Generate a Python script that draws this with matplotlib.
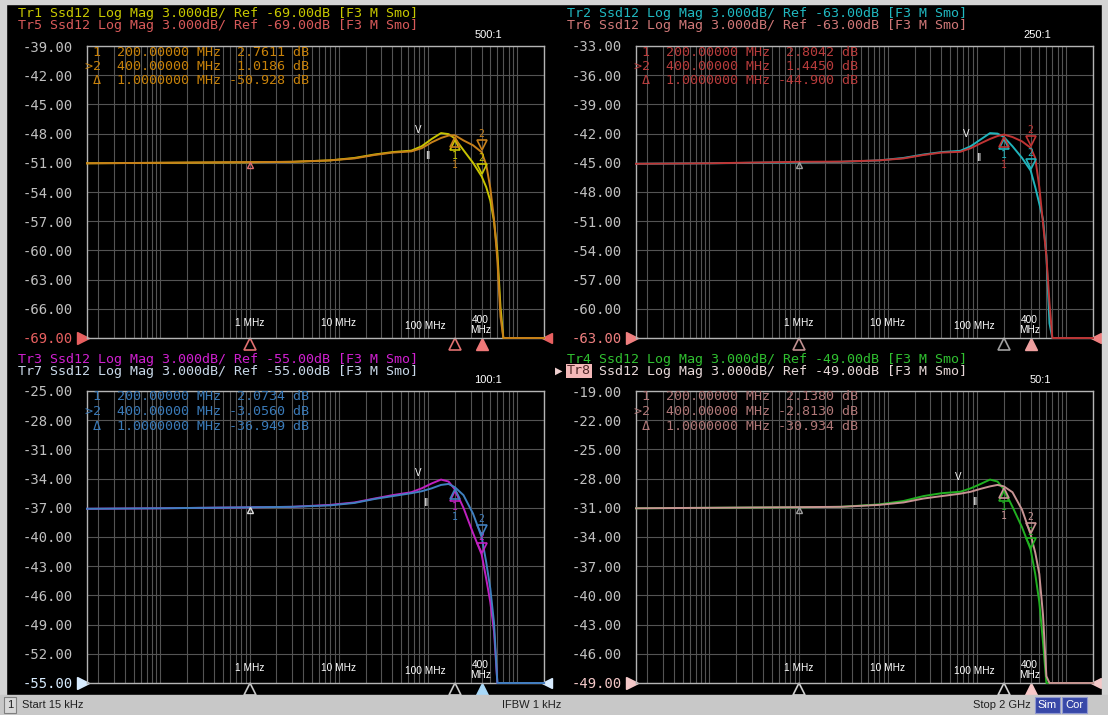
import numpy as np
import matplotlib.pyplot as plt
from matplotlib.ticker import LogLocator, NullFormatter
from matplotlib.transforms import offset_copy
from matplotlib.patches import Rectangle

W, H = 1108, 715

# frequency points (Hz), shared by all traces
freq = [15e3, 1e5, 1e6, 3e6, 8e6, 1.5e7, 2.5e7, 4e7, 6.5e7, 8.5e7, 1.1e8, 1.4e8, 1.7e8,
        2e8, 2.5e8, 3.2e8, 4e8, 4.5e8, 5e8, 5.5e8, 6e8, 6.5e8, 7e8, 1e9, 2e9]

# 500:1 panel
tr1 = [-51.05, -51.0, -50.95, -50.9, -50.75, -50.5, -50.15, -49.9, -49.75, -49.3, -48.55, -47.95, -48.05,
       -48.5, -49.7, -51.0, -52.4, -53.5, -54.9, -57.0, -60.2, -65.8, -71.0, -80.0, -85.0]
tr5 = [-51.05, -51.0, -50.93, -50.9, -50.75, -50.55, -50.2, -49.95, -49.83, -49.5, -48.9, -48.45, -48.2,
       -48.17, -48.7, -49.2, -49.91, -51.2, -53.6, -56.8, -61.0, -66.8, -71.0, -80.0, -85.0]
# 250:1 panel
tr2 = [-45.1, -45.05, -44.95, -44.9, -44.75, -44.5, -44.15, -43.9, -43.77, -43.3, -42.6, -41.95, -42.0,
       -42.35, -43.3, -44.5, -45.8, -47.5, -49.2, -50.8, -54.5, -61.5, -66.0, -75.0, -80.0]
tr6 = [-45.1, -45.05, -44.9, -44.88, -44.75, -44.55, -44.2, -43.95, -43.87, -43.5, -43.0, -42.55, -42.25,
       -42.10, -42.35, -42.8, -43.46, -44.5, -47.5, -51.2, -54.6, -59.4, -64.5, -75.0, -80.0]
# 100:1 panel
tr3 = [-37.1, -37.05, -36.95, -36.9, -36.7, -36.45, -36.05, -35.7, -35.4, -35.0, -34.5, -34.1, -34.3,
       -35.1, -37.0, -39.6, -41.8, -44.3, -46.7, -49.7, -55.5, -62.0, -66.0, -75.0, -80.0]
tr7 = [-37.1, -37.05, -36.95, -36.9, -36.75, -36.5, -36.1, -35.8, -35.5, -35.3, -35.0, -34.65, -34.55,
       -34.88, -35.7, -37.6, -40.0, -42.6, -45.3, -48.8, -55.2, -61.0, -66.0, -75.0, -80.0]
# 50:1 panel
tr4 = [-31.05, -31.0, -30.95, -30.9, -30.65, -30.3, -29.8, -29.5, -29.35, -29.0, -28.55, -28.1, -28.3,
       -29.1, -30.9, -33.0, -35.3, -37.8, -40.7, -44.8, -51.5, -56.0, -61.0, -70.0, -75.0]
tr8 = [-31.05, -31.0, -30.934, -30.9, -30.7, -30.45, -30.05, -29.8, -29.55, -29.35, -29.05, -28.8, -28.65,
       -28.80, -29.4, -31.2, -33.75, -35.6, -37.8, -42.0, -48.3, -54.0, -60.0, -70.0, -75.0]

ref_levels = [-69, -63, -55, -49]
ratios = ["500:1", "250:1", "100:1", "50:1"]
trace_names = [("Tr1", "Tr5"), ("Tr2", "Tr6"), ("Tr3", "Tr7"), ("Tr4", "Tr8")]
# marker readouts: marker 1, marker 2, delta reference
mk1 = [2.7611, 2.8042, 2.0734, 2.1380]
mk2 = [1.0186, 1.4450, -3.0560, -2.8130]
mkd = [-50.928, -44.900, -36.949, -30.934]
freq_labels = ["1 MHz", "10 MHz", "100 MHz", "400\nMHz"]
freq_label_pos = [1e6, 1e7, 0.93e8, 3.9e8]

panels = [
    dict(dx=0, dy=0, data=(tr1, tr5), col=("#c8c400", "#c8801a"),
         hcol=("#c8c800", "#d85a5a"), tcol="#c8820a", refcol="#e86060",
         bot=("#e07070", "#e07070", "#f07878"), dmk="#e07070",
         v=(418, 130), ii=(428, 156)),
    dict(dx=549, dy=0, data=(tr2, tr6), col=("#20b4bc", "#c03434"),
         hcol=("#20b8c0", "#d07878"), tcol="#b83c3c", refcol="#f08080",
         bot=("#c09090", "#a0a0a0", "#f0a0a0"), dmk="#a0a0a0",
         v=(417, 134), ii=(430, 158)),
    dict(dx=0, dy=345, data=(tr3, tr7), col=("#c020c0", "#4080c0"),
         hcol=("#d020d0", "#c8d8e8"), tcol="#3a7ab8", refcol="#d8ecff",
         bot=("#c8c8c8", "#c8c8c8", "#a8d8f8"), dmk="#e0e0e0",
         v=(418, 128), ii=(426, 158)),
    dict(dx=549, dy=345, data=(tr4, tr8), col=("#20b020", "#c89494"),
         hcol=("#30c030", "#e8d8d8"), tcol="#b07878", refcol="#f4c8c8",
         bot=("#d0d0d0", "#d0d0d0", "#f8c8c8"), dmk="#a0a0a0",
         v=(409, 132), ii=(426, 157)),
]

fig = plt.figure(figsize=(W / 100, H / 100), dpi=100, facecolor="black")
mono = "DejaVu Sans Mono"
sans = "Liberation Sans"


def ftext(x, y, s, **kw):
    return fig.text(x / W, 1 - y / H, s, **kw)


i200 = freq.index(2e8)
i400 = freq.index(4e8)
i1m = freq.index(1e6)

for k, p in enumerate(panels):
    dx, dy = p["dx"], p["dy"]
    ref = ref_levels[k]
    l, r, t, b = 87 + dx, 544 + dx, 46 + dy, 338 + dy
    ax = fig.add_axes([l / W, 1 - b / H, (r - l) / W, (b - t) / H])
    ax.set_facecolor("black")
    ax.set_xscale("log")
    ax.set_xlim(15e3, 2e9)
    ax.set_ylim(ref, ref + 30)

    yt = np.arange(ref, ref + 30.1, 3)
    ax.set_yticks(yt)
    ax.set_yticklabels([f"{v:.2f}" for v in yt], fontfamily=mono, fontsize=10, color="#c0c0c0")
    ax.get_yticklabels()[0].set_color(p["refcol"])
    ax.tick_params(axis="y", length=0, pad=10)
    ax.xaxis.set_major_locator(LogLocator(base=10, numticks=20))
    ax.xaxis.set_minor_locator(LogLocator(base=10, subs=np.arange(2, 10), numticks=20))
    ax.xaxis.set_major_formatter(NullFormatter())
    ax.xaxis.set_minor_formatter(NullFormatter())
    ax.tick_params(axis="x", which="both", length=0)
    ax.grid(True, which="both", axis="x", color="#545454", lw=0.8)
    ax.grid(True, which="major", axis="y", color="#545454", lw=0.8)
    for s in ax.spines.values():
        s.set_color("#b4b4b4")
        s.set_linewidth(1.0)

    # traces, clipped to the bottom of the screen like the analyzer does
    for vals, c in zip(p["data"], p["col"]):
        ax.plot(freq, np.maximum(vals, ref), color=c, lw=1.4, clip_on=False, zorder=3)

    # markers on the traces
    below = offset_copy(ax.transData, fig=fig, x=0, y=-7, units="dots")
    above = offset_copy(ax.transData, fig=fig, x=0, y=7, units="dots")
    va, vb = p["data"]
    close1 = abs(va[i200] - vb[i200]) < 1.5
    close2 = abs(va[i400] - vb[i400]) < 1.5
    for j, (vals, c) in enumerate(zip(p["data"], p["col"])):
        ax.plot([2e8], [vals[i200]], marker="^", ms=7, mfc="none", mec=c, mew=1.2,
                transform=below, zorder=4)
        ax.annotate("1", (2e8, vals[i200]), xytext=(0, -18 - (12 * j if close1 else 0)),
                    textcoords="offset pixels", ha="center", va="center", color=c,
                    fontsize=7, fontfamily=mono)
        ax.plot([4e8], [vals[i400]], marker="v", ms=7, mfc="none", mec=c, mew=1.2,
                transform=above, zorder=4)
        ax.annotate("2", (4e8, vals[i400]), xytext=(0, 18 + (12 * j if close2 else 0)),
                    textcoords="offset pixels", ha="center", va="center", color=c,
                    fontsize=7, fontfamily=mono)
    ax.plot([1e6], [vb[i1m]], marker="^", ms=5, mfc="none", mec=p["dmk"],
            transform=offset_copy(ax.transData, fig=fig, y=-3, units="dots"), zorder=4)

    # marker indicators under the axis
    under = offset_copy(ax.get_xaxis_transform(), fig=fig, x=0, y=-6, units="dots")
    ax.plot([1e6], [0], marker="^", ms=8, mfc="none", mec=p["bot"][0], mew=1.2,
            transform=under, clip_on=False)
    ax.plot([2e8], [0], marker="^", ms=8, mfc="none", mec=p["bot"][1], mew=1.2,
            transform=under, clip_on=False)
    ax.plot([4e8], [0], marker="^", ms=8, color=p["bot"][2], transform=under, clip_on=False)

    # reference level pointers
    ax.plot([0], [0], marker=">", ms=8, color=p["refcol"], clip_on=False,
            transform=offset_copy(ax.transAxes, fig=fig, x=-4, y=0, units="dots"))
    ax.plot([1], [0], marker="<", ms=7, color=p["refcol"], clip_on=False,
            transform=offset_copy(ax.transAxes, fig=fig, x=3, y=0, units="dots"))

    # frequency annotations
    for s, f, yy in zip(freq_labels, freq_label_pos, [0.05, 0.05, 0.04, 0.045]):
        ax.text(f, yy, s, transform=ax.get_xaxis_transform(), ha="center", va="center",
                color="white", fontsize=7.3, fontfamily=sans, linespacing=1.0)

    ftext(p["v"][0] + dx, p["v"][1] + dy, "V", color="white", fontsize=7, fontfamily=sans,
          ha="center", va="center")
    ftext(p["ii"][0] + dx, p["ii"][1] + dy, "II", color="white", fontsize=7, fontfamily=sans,
          ha="center", va="center")

    # header lines
    n1, n2 = trace_names[k]
    ftext(18 + dx, 14 + dy, f"{n1} Ssd12 Log Mag 3.000dB/ Ref {ref:.2f}dB [F3 M Smo]",
          color=p["hcol"][0], fontsize=9.6, fontfamily=mono, va="center")
    if k == 3:
        ftext(18 + dx, 26 + dy, n2, color="#502828", fontsize=9.6, fontfamily=mono, va="center",
              bbox=dict(facecolor="#f4b8b8", edgecolor="none", pad=0.6))
        ftext(18 + dx + 24, 26 + dy, f" Ssd12 Log Mag 3.000dB/ Ref {ref:.2f}dB [F3 M Smo]",
              color=p["hcol"][1], fontsize=9.6, fontfamily=mono, va="center")
        ftext(10 + dx, 26 + dy, "\u25b6", color="#f0d0d0", fontsize=7, va="center", ha="center")
    else:
        ftext(18 + dx, 26 + dy, f"{n2} Ssd12 Log Mag 3.000dB/ Ref {ref:.2f}dB [F3 M Smo]",
              color=p["hcol"][1], fontsize=9.6, fontfamily=mono, va="center")
    ftext(502 + dx, 35 + dy, ratios[k], color="white", fontsize=8, fontfamily=sans,
          ha="right", va="center")

    # marker table
    rows = [f" 1  200.00000 MHz {mk1[k]:7.4f} dB",
            f">2  400.00000 MHz {mk2[k]:7.4f} dB",
            f" \u0394  1.0000000 MHz {mkd[k]:7.3f} dB"]
    for j, row in enumerate(rows):
        ftext(85 + dx, 52 + 14.5 * j + dy, row, color=p["tcol"], fontsize=9.6,
              fontfamily=mono, va="center")

# window frame and status bar
for x0, y0, w, h, c in [(0, 0, W, 4, "#d4d4d4"), (0, 0, 6, H, "#d4d4d4"),
                        (1102, 0, 6, H, "#d4d4d4"), (0, 695, W, 20, "#c8c8c8")]:
    fig.patches.append(Rectangle((x0 / W, 1 - (y0 + h) / H), w / W, h / H,
                                 transform=fig.transFigure, color=c, zorder=0))
fig.patches.append(Rectangle((4 / W, 1 - 713 / H), 12 / W, 16 / H, transform=fig.transFigure,
                             facecolor="#d8d8d8", edgecolor="#808080", lw=0.8))
ftext(10, 705, "1", color="#202020", fontsize=8, fontfamily=sans, ha="center", va="center")
ftext(22, 705, "Start 15 kHz", color="#202020", fontsize=8, fontfamily=sans, va="center")
ftext(532, 705, "IFBW 1 kHz", color="#202020", fontsize=8, fontfamily=sans, va="center", ha="center")
ftext(1031, 705, "Stop 2 GHz", color="#202020", fontsize=8, fontfamily=sans, va="center", ha="right")
for x0, s in [(1035, "Sim"), (1062, "Cor")]:
    fig.patches.append(Rectangle((x0 / W, 1 - 713 / H), 25 / W, 16 / H, transform=fig.transFigure,
                                 facecolor="#3848a8", edgecolor="#9098d0", lw=0.8))
    ftext(x0 + 12.5, 705, s, color="white", fontsize=8, fontfamily=sans, va="center", ha="center")

fig.savefig("out.png", dpi=100, facecolor="black")
